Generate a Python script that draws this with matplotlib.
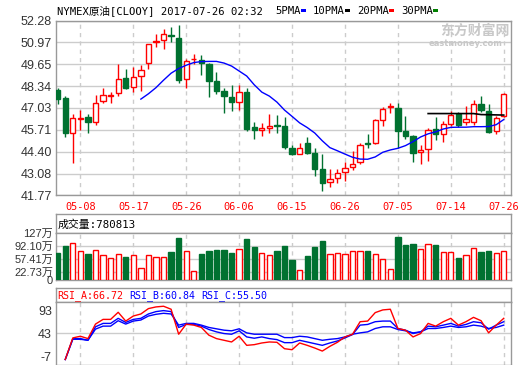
import matplotlib
matplotlib.use('Agg')
import matplotlib.pyplot as plt
from matplotlib.patches import Rectangle
import numpy as np

# ---------------- data ----------------
tick_idx = [3, 10, 17, 24, 31, 38, 45, 52, 59]
tick_labels = ['05-08', '05-17', '05-26', '06-06', '06-15', '06-26', '07-05', '07-14', '07-26']

opens = [48.08, 47.62, 45.55, 46.37, 46.47, 46.19, 47.42, 47.76, 47.90, 48.82,
         48.26, 48.98, 49.71, 50.97, 51.09, 51.44, 51.23, 48.80, 49.95, 49.91,
         49.67, 48.64, 48.04, 47.68, 47.40, 47.98, 45.87, 45.73, 45.85, 46.01,
         45.93, 44.64, 44.28, 44.90, 44.30, 43.38, 42.59, 42.83, 43.19, 43.50,
         43.76, 44.92, 44.92, 46.33, 47.09, 47.01, 45.63, 45.33, 44.38, 44.58,
         45.75, 45.49, 46.09, 46.65, 46.21, 46.21, 47.24, 46.87, 45.67, 46.53]
closes = [47.58, 45.55, 46.45, 46.45, 46.19, 47.30, 47.78, 47.80, 48.80, 48.24,
          48.92, 49.29, 50.85, 51.05, 51.46, 51.34, 48.74, 49.83, 49.99, 49.71,
          48.66, 48.06, 47.76, 47.40, 47.96, 45.77, 45.73, 45.85, 45.97, 45.97,
          44.68, 44.26, 44.64, 44.32, 43.36, 42.53, 42.77, 43.13, 43.44, 43.68,
          44.82, 44.88, 46.33, 46.99, 47.15, 45.65, 45.35, 44.34, 44.52, 45.73,
          45.49, 46.09, 46.63, 46.01, 46.39, 47.24, 46.91, 45.61, 46.45, 47.88]
highs = [48.24, 47.74, 46.69, 46.93, 46.67, 47.80, 48.20, 48.00, 49.65, 49.37,
         49.47, 49.61, 50.85, 51.48, 51.78, 51.92, 52.02, 49.97, 50.27, 50.19,
         49.75, 49.19, 48.22, 48.38, 48.38, 48.22, 46.17, 46.15, 46.69, 46.63,
         46.49, 44.82, 44.90, 45.26, 44.64, 44.26, 43.34, 43.36, 43.78, 44.42,
         44.92, 45.45, 46.39, 47.07, 47.34, 47.34, 46.53, 45.39, 44.78, 45.83,
         46.47, 46.27, 46.83, 46.81, 47.13, 47.50, 47.74, 47.24, 46.55, 47.94]
lows = [47.27, 45.29, 43.74, 45.73, 45.55, 46.03, 47.31, 47.34, 47.76, 48.18,
        48.00, 48.06, 49.35, 50.71, 50.59, 51.01, 48.50, 48.20, 49.67, 49.00,
        47.70, 47.86, 46.73, 46.85, 46.91, 45.65, 45.17, 45.31, 45.55, 45.55,
        44.58, 44.22, 44.26, 44.26, 42.95, 42.03, 42.27, 42.53, 42.63, 43.30,
        43.68, 44.62, 44.84, 45.95, 46.71, 44.62, 45.14, 43.78, 43.66, 43.84,
        45.12, 44.98, 45.97, 45.89, 46.01, 46.03, 46.79, 45.53, 45.43, 46.51]

# moving average (blue) starting at candle 11, black line starting at candle 49
ma_blue_start = 11
ma_blue = [47.56, 47.88, 48.25, 48.70, 49.12, 49.40, 49.60, 49.76, 49.82, 49.83,
           49.83, 49.73, 49.55, 49.25, 48.95, 48.42, 47.98, 47.74, 47.38, 46.90,
           46.52, 46.13, 45.85, 45.52, 45.05, 44.64, 44.45, 44.25, 44.06, 43.95,
           43.94, 44.08, 44.36, 44.50, 44.60, 44.76, 45.00, 45.28, 45.47, 45.59,
           45.76, 45.86, 45.87, 45.87, 45.90, 45.90, 45.91, 46.02, 46.33]
ma_black_start = 49
ma_black = [46.69, 46.69, 46.69, 46.69, 46.69, 46.69, 46.69, 46.63, 46.62, 46.61, 46.60]

price_ticks = [52.28, 50.97, 49.65, 48.34, 47.03, 45.71, 44.40, 43.08, 41.77]

# volume in 万
volume = [73.3, 92.1, 99.3, 77.9, 70.6, 80.6, 67.1, 59.1, 69.8, 61.8,
          67.1, 31.3, 67.1, 61.8, 61.8, 76.1, 113.6, 77.9, 24.2, 70.6,
          78.8, 81.4, 81.4, 73.3, 83.2, 110.9, 89.4, 72.5, 68.0, 77.9,
          92.1, 53.7, 26.9, 64.4, 88.6, 104.7, 69.8, 72.5, 69.8, 77.9,
          77.9, 77.9, 69.8, 56.4, 28.7, 115.5, 94.8, 97.5, 83.2, 96.7,
          94.8, 75.2, 75.2, 59.1, 67.1, 85.9, 76.1, 78.8, 72.5, 77.9]
vol_ticks = [0, 22.73, 57.41, 92.10, 127]
vol_tick_labels = ['0', '22.73万', '57.41万', '92.10万', '127万']

# RSI (as read on the panel's own axis), starting at candle 1
rsi_start = 1
rsi_a = [-14.4, 33.0, 36.7, 31.5, 63.4, 73.7, 73.7, 89.3, 70.0, 81.1,
         85.6, 97.4, 101.1, 102.6, 96.0, 41.1, 63.4, 61.1, 56.0, 39.0,
         31.5, 27.8, 24.1, 36.7, 16.7, 18.2, 21.9, 24.1, 23.4, 9.3,
         7.1, 21.9, 16.7, 10.8, 4.1, 14.5, 23.4, 35.2, 41.1, 68.6,
         70.0, 88.6, 94.5, 96.0, 53.7, 50.0, 35.2, 42.6, 64.9, 58.9,
         68.6, 76.0, 61.1, 68.6, 78.2, 70.8, 44.1, 61.1, 76.0]
rsi_b = [-14.4, 31.5, 31.5, 27.8, 57.4, 64.9, 64.9, 76.0, 67.1, 73.7,
         76.0, 85.6, 90.8, 93.0, 90.8, 56.0, 62.6, 62.6, 58.9, 51.5,
         46.3, 42.6, 41.1, 48.6, 35.2, 32.3, 35.2, 31.5, 29.3, 22.6,
         22.6, 27.8, 24.1, 20.4, 16.7, 21.9, 26.3, 33.0, 40.4, 61.1,
         62.6, 68.6, 70.0, 70.0, 53.7, 50.0, 42.6, 46.3, 58.9, 57.4,
         61.1, 64.9, 58.9, 62.6, 68.6, 66.3, 52.3, 61.1, 68.6]
rsi_c = [-14.4, 30.0, 30.0, 27.8, 52.3, 58.9, 58.9, 70.8, 63.4, 70.0,
         72.3, 81.1, 84.9, 87.1, 85.6, 61.1, 64.9, 64.9, 61.1, 56.0,
         53.0, 50.0, 48.6, 53.0, 44.1, 41.1, 41.1, 41.1, 41.1, 33.7,
         33.7, 36.7, 35.2, 31.5, 27.8, 30.0, 31.5, 35.2, 41.1, 44.1,
         46.3, 53.7, 57.4, 57.4, 51.5, 48.6, 44.1, 46.3, 53.7, 53.7,
         56.0, 58.9, 56.0, 57.4, 61.1, 58.9, 53.7, 56.0, 61.1]
rsi_ticks = [93, 43, -7]

title = 'NYMEX原油[CLOOY] 2017-07-26 02:32'
legend_items = [('5PMA', '#0000ff'), ('10PMA', '#000000'), ('20PMA', '#ff0000'), ('30PMA', '#008000')]
vol_header = '成交量:780813'
rsi_header = [('RSI_A:66.72', '#ff0000'), ('RSI_B:60.84', '#0000ff'), ('RSI_C:55.50', '#0000ff')]

# ---------------- style ----------------
RED = '#ff0000'
GREEN = '#007130'
GRID = '#cccccc'
BORDER = '#999999'
MONO = ['DejaVu Sans Mono', 'Noto Sans CJK SC']
SANS = ['Liberation Sans', 'Noto Sans CJK SC']

W, H = 520, 365
fig = plt.figure(figsize=(W / 100, H / 100), dpi=100)
fig.patch.set_facecolor('white')


def box(x0, y0, x1, y1):
    return [x0 / W, 1 - y1 / H, (x1 - x0) / W, (y1 - y0) / H]


ax = fig.add_axes(box(56, 20.7, 510.7, 195.3))
axvh = fig.add_axes(box(56, 214, 510.7, 232.7))
axv = fig.add_axes(box(56, 232.7, 510.7, 280))
axrh = fig.add_axes(box(56, 287.5, 510.7, 301.5))
axr = fig.add_axes(box(56, 301.5, 510.7, 364.5))

n = len(opens)
x = np.arange(n)
o = np.array(opens); c = np.array(closes); h = np.array(highs); l = np.array(lows)
up = c >= o
XL = (-0.225, 59.92)

for a in (ax, axvh, axv, axrh, axr):
    a.set_xlim(*XL)
    for s in a.spines.values():
        s.set_color(BORDER)
        s.set_linewidth(1)
    a.tick_params(length=0)
for a in (axvh, axrh):
    a.set_xticks([]); a.set_yticks([])

# ---- main candle chart ----
ax.set_ylim(41.77, 52.28)
ax.set_yticks(price_ticks)
ax.set_yticklabels([f'{v:.2f}' for v in price_ticks], family=SANS, fontsize=9, color='#333333')
ax.tick_params(axis='y', pad=3)
ax.yaxis.grid(True, color=GRID, lw=1, ls='-')
ax.set_axisbelow(True)
ax.set_xticks(tick_idx)
ax.set_xticklabels(tick_labels, family=MONO, fontsize=7.4, color=RED)
ax.tick_params(axis='x', pad=5)
for a in (ax, axv, axr):
    for t in tick_idx:
        a.axvline(t, color=GRID, lw=1, ls=(0, (3, 3)), zorder=0.5)

colors = np.where(up, RED, GREEN)
ax.vlines(x, l, h, colors=colors, lw=1, zorder=2)
bottom = np.minimum(o, c)
height = np.maximum(np.abs(c - o), 0.02)
ax.bar(x[up], height[up], bottom=bottom[up], width=0.7, facecolor='white',
       edgecolor=RED, lw=1, zorder=3)
ax.bar(x[~up], height[~up], bottom=bottom[~up], width=0.7, facecolor=GREEN,
       edgecolor=GREEN, lw=1, zorder=3)

ax.plot(np.arange(ma_blue_start, ma_blue_start + len(ma_blue)), ma_blue,
        color='#0000ff', lw=1, zorder=4)
ax.plot(np.arange(ma_black_start, ma_black_start + len(ma_black)), ma_black,
        color='#000000', lw=1.2, zorder=4)

# ---- volume ----
axv.set_ylim(0, 127)
axv.set_yticks(vol_ticks)
axv.set_yticklabels(vol_tick_labels, family=SANS, fontsize=8, color='#333333')
axv.tick_params(axis='y', pad=2)
axv.set_xticks([])
for v in vol_ticks[1:-1]:
    axv.axhline(v, color=GRID, lw=1, zorder=0.5)
vol = np.array(volume)
axv.bar(x[up], vol[up], width=0.7, facecolor='white', edgecolor=RED, lw=1, zorder=3)
axv.bar(x[~up], vol[~up], width=0.7, facecolor=GREEN, edgecolor=GREEN, lw=1, zorder=3)

axvh.text(0.003, 0.45, vol_header, transform=axvh.transAxes, family=MONO,
          fontsize=7.8, color='#000000', va='center', ha='left')

# ---- RSI ----
axr.set_ylim(-25.4, 113)
axr.set_yticks(rsi_ticks)
axr.set_yticklabels([str(v) for v in rsi_ticks], family=SANS, fontsize=9, color='#333333')
axr.tick_params(axis='y', pad=3)
axr.set_xticks([])
axr.axhline(43, color=GRID, lw=1, zorder=0.5)
xr = np.arange(rsi_start, rsi_start + len(rsi_a))
axr.plot(xr, rsi_c, color='#0000ff', lw=1, zorder=3)
axr.plot(xr, rsi_b, color='#0000ff', lw=1, zorder=3)
axr.plot(xr, rsi_a, color=RED, lw=1, zorder=4)

xpos = 0.003
for txt, col in rsi_header:
    axrh.text(xpos, 0.45, txt, transform=axrh.transAxes, family=MONO,
              fontsize=7.2, color=col, va='center', ha='left')
    xpos += 72 / 454.7

# ---- header texts ----
fig.text(57 / W, 1 - 10.5 / H, title, family=MONO, fontsize=7.6, color='#000000',
         va='center', ha='left')
lx = 275
for name, col in legend_items:
    fig.text(lx / W, 1 - 10.5 / H, name, family=MONO, fontsize=7.6,
             color='#000000', va='center', ha='left')
    w = 6.0 * len(name)
    fig.patches.append(Rectangle(((lx + w + 2) / W, 1 - 12 / H), 5 / W, 3 / H,
                                 transform=fig.transFigure, facecolor=col,
                                 edgecolor='none'))
    lx += w + 14

# watermark
fig.text(440 / W, 1 - 30.5 / H, '东方财富网', family=['Noto Sans CJK SC'], fontsize=10,
         weight='bold', color='#c8c8c8', va='center', ha='left')
fig.text(429 / W, 1 - 43 / H, 'eastmoney.com', family=['DejaVu Sans'], fontsize=6,
         weight='bold', color='#c8c8c8', va='center', ha='left')

fig.savefig('out.png', dpi=100, facecolor='white')
